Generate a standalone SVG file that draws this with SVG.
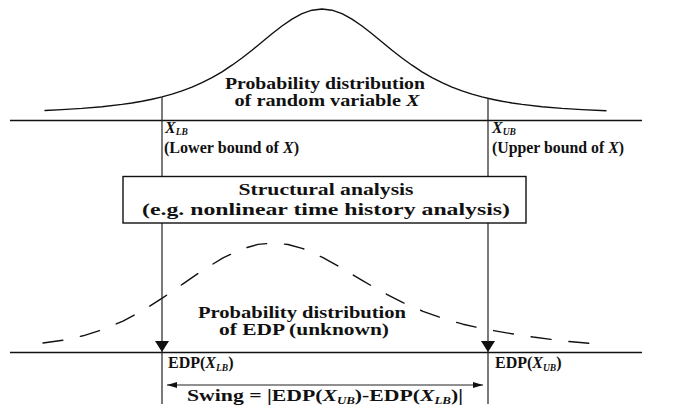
<svg xmlns="http://www.w3.org/2000/svg" width="677" height="406" viewBox="0 0 677 406">
<style>
  .t{font-family:"Liberation Serif","Times New Roman",serif;font-weight:bold;font-size:16px;fill:#111}
  .c{text-anchor:middle}
  .i{font-style:italic}
  .sub{font-size:9.5px;font-style:italic}
  .axis{stroke:#111;stroke-width:1.6;fill:none}
  .curve{stroke:#111;stroke-width:1.4;fill:none;stroke-linejoin:round;stroke-linecap:round}
  .dash{stroke-dasharray:20 18}
  .v{stroke:#222;stroke-width:1.2;fill:none}
  .box{fill:#fff;stroke:#111;stroke-width:1.4}
</style>
<defs>
  <marker id="ah" markerUnits="userSpaceOnUse" markerWidth="12" markerHeight="14" refX="11" refY="7" orient="auto">
    <path d="M0,0 L11,7 L0,14 z" fill="#111"/>
  </marker>
  <marker id="sa" markerUnits="userSpaceOnUse" markerWidth="11" markerHeight="6" refX="10" refY="3" orient="auto-start-reverse">
    <path d="M0,0 L10,3 L0,6 z" fill="#111"/>
  </marker>
</defs>
<rect width="677" height="406" fill="#fff"/>

<!-- axes -->
<line class="axis" x1="10" y1="120.5" x2="642" y2="120.5"/>
<line class="axis" x1="10" y1="352.5" x2="642" y2="352.5"/>

<!-- probability distribution of X -->
<path class="curve" d="M45,110.5 L62,109.6 L82,108.4 L102,106.7 L122,104.4 L132,103 L142,101.3 L152,99.2 L162,96.9 L172,94.1 L182,90.9 L192,87.1 L202,82.7 L212,77.6 L222,71.8 L232,65.2 L242,58 L252,50.2 L262,42 L272,33.8 L282,26 L292,19.1 L302,13.7 L312,10.2 L322,9 L332,10.2 L342,13.7 L352,19.1 L362,26 L372,33.8 L382,42 L392,50.2 L402,58 L412,65.2 L422,71.8 L432,77.6 L442,82.7 L452,87.1 L462,90.9 L472,94.1 L482,96.9 L492,99.2 L502,101.3 L512,103 L522,104.4 L542,106.7 L562,108.4 L582,109.6 L606,110.8"/>

<!-- probability distribution of EDP (dashed) -->
<path class="curve dash" d="M43,343 L63,340.2 L83,335.8 L103,329.5 L123,321.1 L143,310.4 L163,297.7 L183,283.9 L203,270.1 L223,257.9 L243,248.6 L258,244.4 L273,243 L288,244.5 L303,248.6 L323,257.6 L343,268.9 L363,280.9 L383,292.4 L403,302.6 L423,311.3 L443,318.4 L463,324.2 L483,328.7 L508,333.1 L533,337 L563,341 L603,344.5"/>

<g id="dist-x">
  <text class="t c" x="325" y="89" textLength="200" lengthAdjust="spacingAndGlyphs">Probability distribution</text>
  <text class="t c" x="327" y="106" textLength="185" lengthAdjust="spacingAndGlyphs">of random variable <tspan class="i">X</tspan></text>
</g>

<g id="lower-bound">
  <text class="t" x="165" y="133"><tspan class="i">X</tspan><tspan class="sub" dy="2">LB</tspan></text>
  <text class="t" x="164" y="153" textLength="135" lengthAdjust="spacingAndGlyphs">(Lower bound of <tspan class="i">X</tspan>)</text>
</g>

<g id="upper-bound">
  <text class="t" x="492" y="133"><tspan class="i">X</tspan><tspan class="sub" dy="2">UB</tspan></text>
  <text class="t" x="492" y="153" textLength="132" lengthAdjust="spacingAndGlyphs">(Upper bound of <tspan class="i">X</tspan>)</text>
</g>

<g id="connectors">
  <line class="v" x1="162" y1="97" x2="162" y2="176"/>
  <line class="v" x1="488" y1="98" x2="488" y2="176"/>
  <line class="v" x1="162" y1="223" x2="162" y2="352" marker-end="url(#ah)"/>
  <line class="v" x1="488" y1="223" x2="488" y2="352" marker-end="url(#ah)"/>
  <line class="v" x1="162" y1="352" x2="162" y2="404"/>
  <line class="v" x1="488" y1="352" x2="488" y2="404"/>
  <line class="v" x1="167" y1="385" x2="483" y2="385" marker-start="url(#sa)" marker-end="url(#sa)"/>
</g>

<g id="structural-analysis">
  <rect class="box" x="123" y="176.5" width="403" height="46.5"/>
  <text class="t c" x="326" y="195" textLength="175" lengthAdjust="spacingAndGlyphs">Structural analysis</text>
  <text class="t c" x="326" y="215" textLength="368" lengthAdjust="spacingAndGlyphs">(e.g. nonlinear time history analysis)</text>
</g>

<g id="dist-edp">
  <text class="t c" x="302" y="318" textLength="208" lengthAdjust="spacingAndGlyphs">Probability distribution</text>
  <text class="t c" x="304" y="335" textLength="170" lengthAdjust="spacingAndGlyphs">of EDP (unknown)</text>
</g>

<g id="edp-lb">
  <text class="t" x="168" y="368">EDP(<tspan class="i">X</tspan><tspan class="sub" dy="3">LB</tspan><tspan dy="-3">)</tspan></text>
</g>

<g id="edp-ub">
  <text class="t" x="495" y="368">EDP(<tspan class="i">X</tspan><tspan class="sub" dy="3">UB</tspan><tspan dy="-3">)</tspan></text>
</g>

<g id="swing">
  <text class="t c" x="325" y="401" textLength="276" lengthAdjust="spacingAndGlyphs">Swing = |EDP(<tspan class="i">X</tspan><tspan class="sub" dy="3">UB</tspan><tspan dy="-3">)-EDP(</tspan><tspan class="i">X</tspan><tspan class="sub" dy="3">LB</tspan><tspan dy="-3">)|</tspan></text>
</g>
</svg>
